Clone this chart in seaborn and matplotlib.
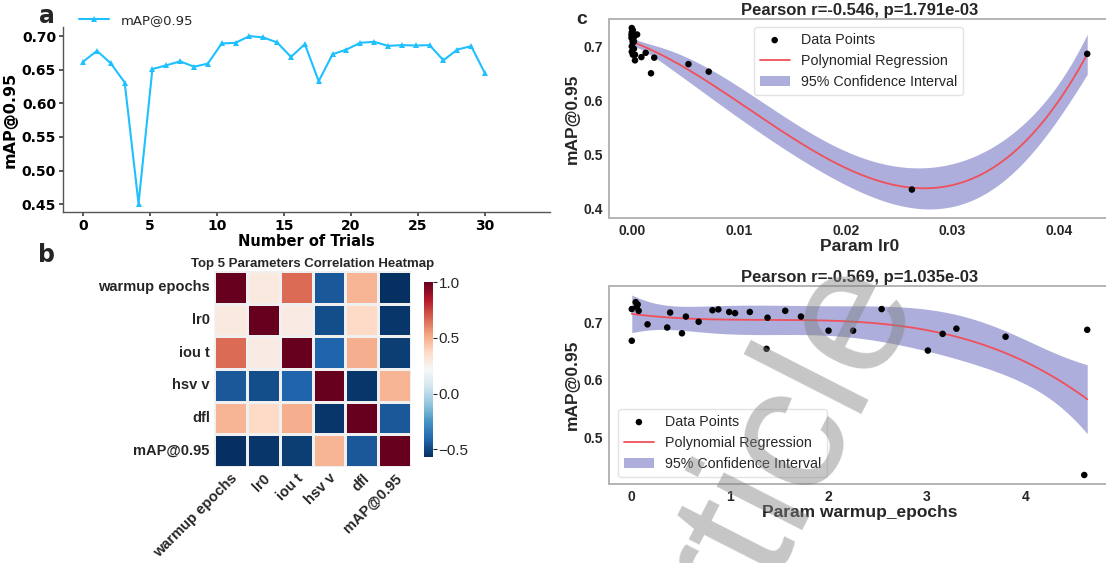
import numpy as np
import pandas as pd
import matplotlib
matplotlib.use("Agg")
import matplotlib.pyplot as plt
import seaborn as sns

# ---------------- data ----------------
trial_map = [0.662, 0.678, 0.6595, 0.631, 0.451, 0.651, 0.6565, 0.6625, 0.6545, 0.659,
             0.689, 0.690, 0.700, 0.698, 0.6905, 0.669, 0.688, 0.633, 0.673, 0.680,
             0.690, 0.6915, 0.6855, 0.6865, 0.686, 0.6865, 0.664, 0.680, 0.685, 0.6445]

heat_labels = ["warmup epochs", "lr0", "iou t", "hsv v", "dfl", "mAP@0.95"]
corr_warmup = [1.00, 0.29, 0.66, -0.45, 0.48, -0.569]
corr_lr0 = [0.29, 1.00, 0.28, -0.48, 0.37, -0.546]
corr_iou = [0.66, 0.28, 1.00, -0.41, 0.50, -0.53]
corr_hsv = [-0.45, -0.48, -0.41, 1.00, -0.55, 0.48]
corr_dfl = [0.48, 0.37, 0.50, -0.55, 1.00, -0.45]
corr_map = [-0.569, -0.546, -0.53, 0.48, -0.45, 1.00]

warmup_epochs = [0.00, 0.00, 0.04, 0.06, 0.05, 0.07, 0.16, 0.36, 0.39, 0.51,
                 0.55, 0.68, 0.82, 0.88, 0.99, 1.05, 1.20, 1.37, 1.38, 1.56,
                 1.72, 2.00, 2.25, 2.54, 3.01, 3.16, 3.30, 3.80, 4.63, 4.60]
lr0 = [0.0005, 0.0053, 0.0000, 0.0001, 0.0000, 0.0001, 0.0002, 0.0000, 0.0000, 0.0009,
       0.0001, 0.0000, 0.0002, 0.0000, 0.0001, 0.0000, 0.0002, 0.0072, 0.0001, 0.0000,
       0.0002, 0.0001, 0.0003, 0.0000, 0.0018, 0.0021, 0.0013, 0.0003, 0.0426, 0.0262]
scatter_map = [0.723, 0.668, 0.735, 0.731, 0.727, 0.720, 0.6965, 0.691, 0.717, 0.681,
               0.710, 0.701, 0.721, 0.7225, 0.718, 0.716, 0.718, 0.654, 0.708, 0.720,
               0.710, 0.6855, 0.6855, 0.723, 0.651, 0.680, 0.689, 0.675, 0.687, 0.435]

title_lr0 = "Pearson r=-0.546, p=1.791e-03"
title_warm = "Pearson r=-0.569, p=1.035e-03"

# ---------------- helpers ----------------
def poly_ci(x, y, deg=3, n=300, t=2.0555):
    x = np.asarray(x, float); y = np.asarray(y, float)
    sc = x.max()
    X = np.vander(x / sc, deg + 1)
    beta, *_ = np.linalg.lstsq(X, y, rcond=None)
    res = y - X @ beta
    s2 = res @ res / (len(x) - deg - 1)
    cov = s2 * np.linalg.inv(X.T @ X)
    xs = np.linspace(x.min(), x.max(), n)
    Xs = np.vander(xs / sc, deg + 1)
    yh = Xs @ beta
    se = np.sqrt(np.einsum("ij,jk,ik->i", Xs, cov, Xs))
    return xs, yh, yh - t * se, yh + t * se

sns.set_theme(style="white")
plt.rcParams["font.family"] = ["DejaVu Sans"]

W, H = 1106, 563
fig = plt.figure(figsize=(W / 100, H / 100), dpi=100)

def rect(l, t, r, b):
    return [l / W, 1 - b / H, (r - l) / W, (b - t) / H]

# ---------------- panel a ----------------
ax_a = fig.add_axes(rect(63, 27, 550, 212))
df_a = pd.DataFrame({"trial": np.linspace(0, 30, len(trial_map)), "map": trial_map})
sns.lineplot(data=df_a, x="trial", y="map", ax=ax_a, color="#1ec0ff", marker="^",
             markersize=5, markeredgewidth=0, linewidth=1.5, label="mAP@0.95")
ax_a.set_xlim(-1.5, 34.85)
ax_a.set_ylim(0.4385, 0.7135)
ax_a.set_xticks([0, 5, 10, 15, 20, 25, 30])
ax_a.set_yticks([0.45, 0.50, 0.55, 0.60, 0.65, 0.70])
ax_a.set_yticklabels([f"{v:.2f}" for v in [0.45, 0.50, 0.55, 0.60, 0.65, 0.70]])
for lab in ax_a.get_xticklabels() + ax_a.get_yticklabels():
    lab.set_fontweight("bold"); lab.set_fontsize(10); lab.set_color("black")
ax_a.tick_params(axis="both", length=3, color="#444444", pad=2, left=True, bottom=True)
ax_a.set_xlabel("Number of Trials", fontsize=10.5, fontweight="bold", color="black", labelpad=1)
ax_a.set_ylabel("mAP@0.95", fontsize=11.5, fontweight="bold", color="black")
ax_a.yaxis.set_label_coords(-0.094, 0.5)
for s in ["top", "right"]:
    ax_a.spines[s].set_visible(False)
for s in ["left", "bottom"]:
    ax_a.spines[s].set_color("#555555"); ax_a.spines[s].set_linewidth(1.0)
ax_a.legend(loc="upper left", bbox_to_anchor=(0.022, 1.10), frameon=False, fontsize=9.5,
            handlelength=2.3, borderaxespad=0, handletextpad=0.9)
fig.text(47 / W, 1 - 16 / H, "a", fontsize=17, fontweight="bold", va="center", ha="center")

# ---------------- panel b ----------------
ARIAL = ["Liberation Sans", "DejaVu Sans"]
ax_b = fig.add_axes(rect(214, 271, 411, 467))
cax = fig.add_axes(rect(424, 282, 433, 457))
corr = pd.DataFrame([corr_warmup, corr_lr0, corr_iou, corr_hsv, corr_dfl, corr_map],
                    index=heat_labels, columns=heat_labels)
sns.heatmap(corr, ax=ax_b, cbar_ax=cax, cmap="RdBu_r", linewidths=0.8, linecolor="#f0f0f0",
            square=False)
ax_b.set_title("Top 5 Parameters Correlation Heatmap", fontsize=9.5, fontweight="bold",
               family=ARIAL, color="#262626", pad=3)
ax_b.set_yticklabels(heat_labels, rotation=0, fontsize=10.5, fontweight="bold",
                     family=ARIAL, color="#262626")
ax_b.set_xticklabels(heat_labels, rotation=45, ha="right", rotation_mode="anchor",
                     fontsize=10.5, fontweight="bold", family=ARIAL, color="#262626")
ax_b.tick_params(length=0, pad=3)
ax_b.set_xlabel(""); ax_b.set_ylabel("")
cax.set_yticks([-0.5, 0.0, 0.5, 1.0])
cax.set_yticklabels(["\u22120.5", "0.0", "0.5", "1.0"], fontsize=11, family=ARIAL, color="#262626")
cax.tick_params(length=3, width=0.8, color="#262626", pad=1)
fig.text(46 / W, 1 - 255 / H, "b", fontsize=17, fontweight="bold", va="center", ha="center")

# ---------------- panel c ----------------
band_col = "#adaedb"
line_col = "#f0505a"

def reg_panel(ax, xvals, yvals, title, xlabel, xticks, xfmt, legend_loc):
    xs, yh, lo, hi = poly_ci(xvals, yvals)
    ax.fill_between(xs, lo, hi, color=band_col, lw=0, label="95% Confidence Interval")
    sns.lineplot(x=xs, y=yh, ax=ax, color=line_col, lw=1.3, label="Polynomial Regression")
    sns.scatterplot(x=xvals, y=yvals, ax=ax, color="black", s=22, edgecolor="none",
                    label="Data Points", zorder=5)
    ax.set_title(title, fontsize=12, fontweight="bold", family=ARIAL, color="#262626", pad=3)
    ax.set_xlabel(xlabel, fontsize=12.5, fontweight="bold", family=ARIAL, color="#262626", labelpad=1)
    ax.set_ylabel("mAP@0.95", fontsize=12.5, fontweight="bold", family=ARIAL, color="#262626", labelpad=3)
    ax.set_xticks(xticks)
    ax.set_xticklabels([xfmt.format(v) for v in xticks], fontsize=10, fontweight="bold",
                       family=ARIAL, color="#262626")
    ax.tick_params(length=0, pad=4)
    for s in ax.spines.values():
        s.set_color("#b4b4b4"); s.set_linewidth(1.4)
    h, l = ax.get_legend_handles_labels()
    order = [l.index("Data Points"), l.index("Polynomial Regression"), l.index("95% Confidence Interval")]
    leg = ax.legend([h[i] for i in order], [l[i] for i in order], prop={"family": ARIAL, "size": 10.3},
                    frameon=True, handlelength=2.1, **legend_loc)
    leg.get_frame().set_edgecolor("#dddddd")
    for t in leg.get_texts():
        t.set_color("#262626")

ax_c1 = fig.add_axes(rect(609, 19, 1110, 218))
reg_panel(ax_c1, lr0, scatter_map, title_lr0, "Param lr0", [0.0, 0.01, 0.02, 0.03, 0.04],
          "{:.2f}", dict(loc="upper left", bbox_to_anchor=(0.275, 0.995)))
ax_c1.set_yticks([0.4, 0.5, 0.6, 0.7])
ax_c1.set_yticklabels(["0.4", "0.5", "0.6", "0.7"], fontsize=10, fontweight="bold", family=ARIAL, color="#262626")

ax_c2 = fig.add_axes(rect(609, 286, 1110, 484))
reg_panel(ax_c2, warmup_epochs, scatter_map, title_warm, "Param warmup_epochs", [0, 1, 2, 3, 4],
          "{:d}", dict(loc="lower left", bbox_to_anchor=(0.004, 0.0)))
ax_c2.set_yticks([0.5, 0.6, 0.7])
ax_c2.set_yticklabels(["0.5", "0.6", "0.7"], fontsize=10, fontweight="bold", family=ARIAL, color="#262626")
fig.text(582 / W, 1 - 20 / H, "c", fontsize=14, fontweight="bold", family=ARIAL, va="center", ha="center")

# watermark
fig.text(765 / W, 1 - 500 / H, "Article", fontsize=130, family=ARIAL, color="grey", alpha=0.45,
         rotation=63, ha="center", va="center", zorder=10)

fig.savefig("out.png", dpi=100)
